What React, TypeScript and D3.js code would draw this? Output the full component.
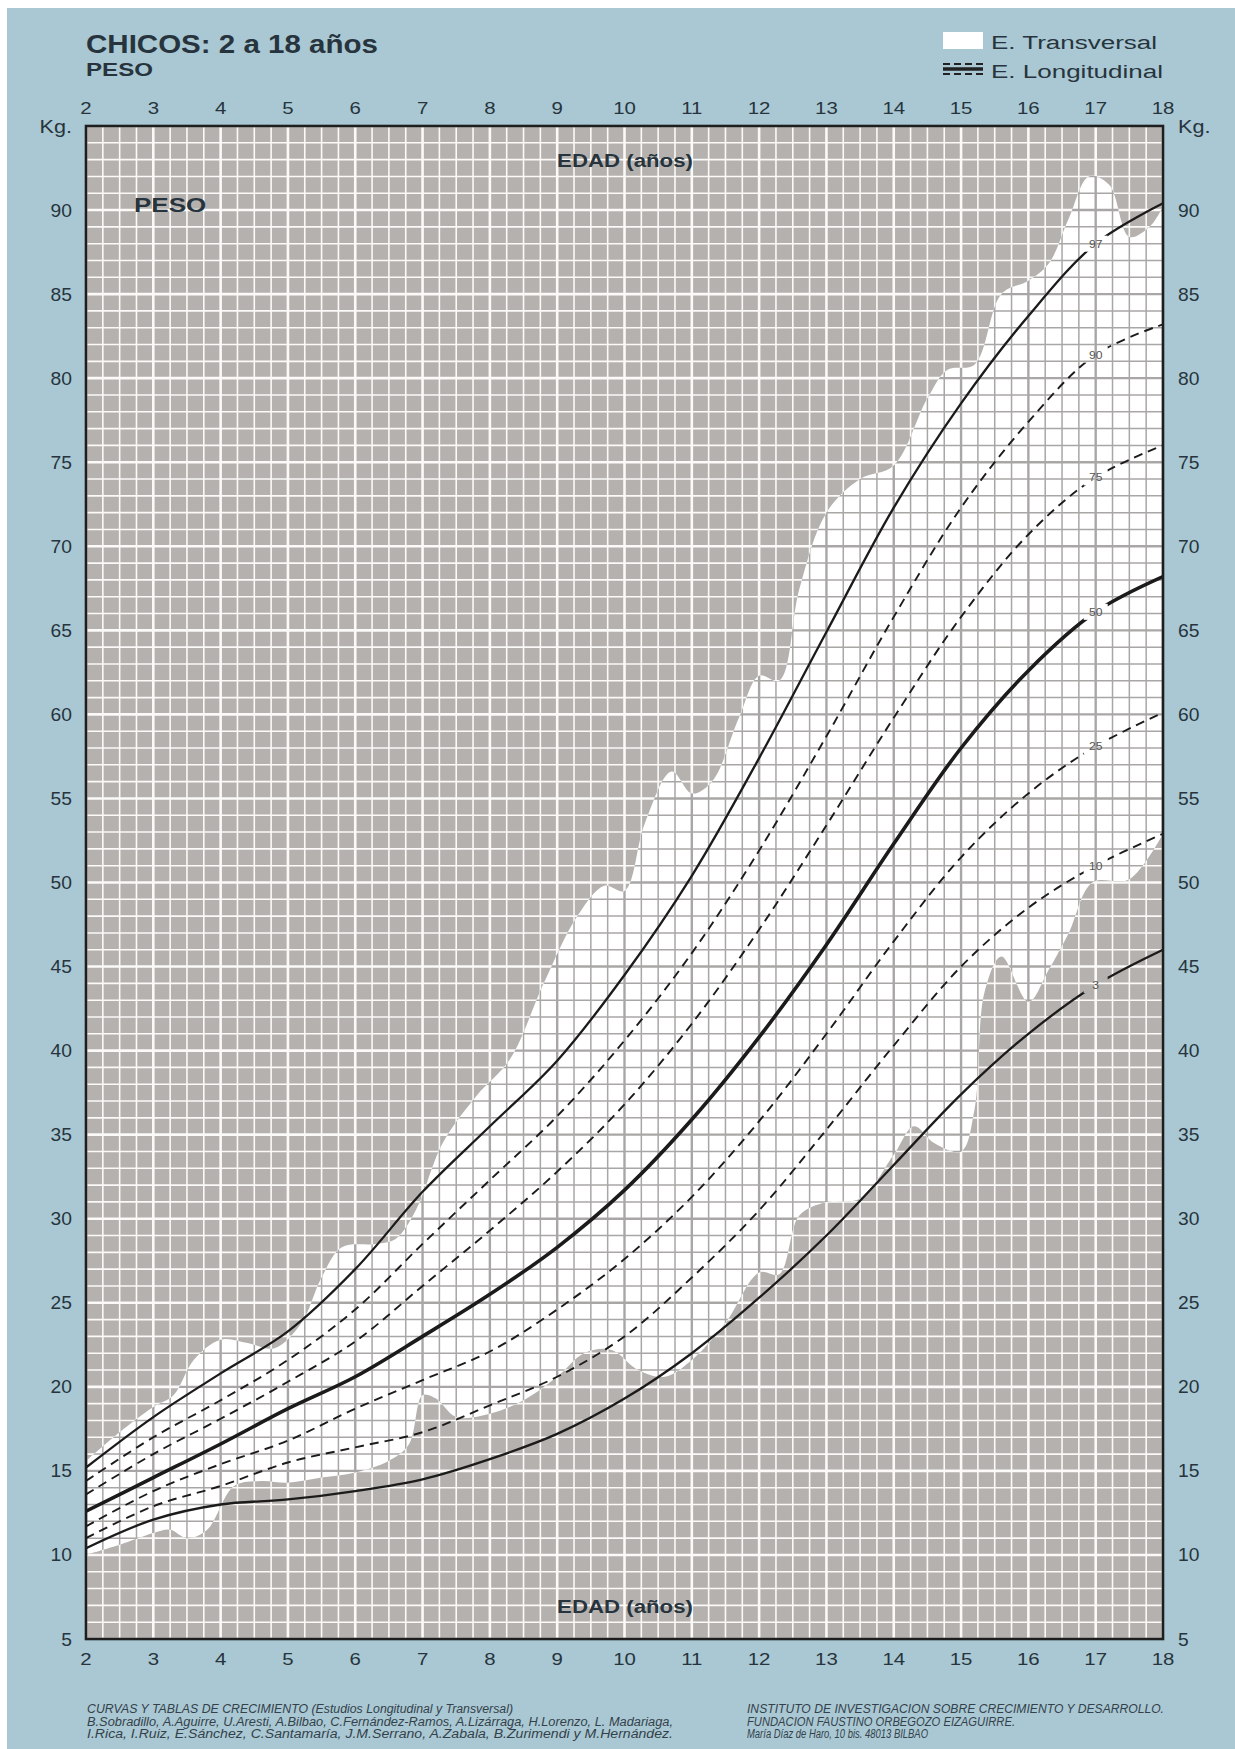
import React from 'react';
import * as d3 from 'd3';

// edades (años) de las curvas longitudinales
const ages = [2, 3, 4, 5, 6, 7, 8, 9, 10, 11, 12, 13, 14, 15, 16, 17, 18];
// percentiles de peso (kg)
const p3 = [10.4, 12.1, 13.0, 13.3, 13.8, 14.5, 15.7, 17.2, 19.3, 22.0, 25.3, 29.0, 33.2, 37.4, 41.0, 43.9, 46.0];
const p10 = [11.0, 12.9, 14.1, 15.5, 16.4, 17.3, 18.9, 20.6, 23.0, 26.5, 30.5, 35.3, 40.3, 45.0, 48.5, 51.0, 52.9];
const p25 = [11.7, 13.8, 15.4, 16.8, 18.7, 20.4, 22.1, 24.6, 27.6, 31.3, 35.8, 41.0, 46.5, 51.5, 55.3, 58.1, 60.1];
const p50 = [12.6, 14.6, 16.6, 18.7, 20.6, 23.0, 25.5, 28.3, 31.7, 35.9, 40.8, 46.3, 52.3, 58.0, 62.6, 66.1, 68.2];
const p75 = [13.6, 16.0, 18.1, 20.3, 22.7, 26.0, 29.3, 32.8, 36.8, 41.6, 47.2, 53.4, 59.8, 65.8, 70.7, 74.1, 76.0];
const p90 = [14.4, 17.0, 19.2, 21.6, 24.6, 28.5, 32.3, 36.1, 40.6, 45.8, 51.9, 58.7, 65.8, 72.3, 77.4, 81.4, 83.2];
const p97 = [15.2, 18.2, 20.8, 23.3, 27.0, 31.6, 35.5, 39.4, 44.5, 50.4, 57.4, 64.9, 72.3, 78.5, 83.7, 88.0, 90.4];
const curveNames = ['97', '90', '75', '50', '25', '10', '3'];

// estudio transversal: limite superior e inferior de la zona blanca
const bandUpAge = [2, 2.5, 3, 3.3, 3.6, 4.0, 4.4, 4.8, 5.2, 5.5, 5.8, 6.3, 6.6, 6.9, 7.3, 7.8, 8.3, 8.8, 9.3, 9.7, 10.0, 10.3, 10.7, 11.0, 11.3, 11.7, 12.0, 12.3, 12.6, 13.0, 13.5, 14.0, 14.5, 14.8, 15.2, 15.6, 16.0, 16.3, 16.6, 16.9, 17.2, 17.5, 17.8, 18];
const bandUpKg = [15.6, 17.3, 18.8, 19.5, 21.6, 22.8, 22.6, 22.3, 23.8, 26.5, 28.3, 28.5, 28.8, 30.5, 34.5, 37.3, 39.5, 44.0, 48.0, 49.8, 49.5, 53.5, 56.6, 55.3, 56.0, 59.8, 62.3, 62.0, 67.5, 72.0, 74.0, 74.8, 78.8, 80.5, 80.8, 85.0, 85.8, 86.8, 89.5, 92.0, 91.5, 88.4, 89.0, 90.2];
const bandLoAge = [2, 2.5, 3.0, 3.25, 3.5, 3.8, 4.2, 4.6, 5.0, 5.5, 6.0, 6.5, 6.8, 7.0, 7.2, 7.5, 8.0, 8.5, 9.0, 9.4, 9.8, 10.2, 10.6, 11.0, 11.5, 12.0, 12.3, 12.6, 13.0, 13.5, 14.0, 14.3, 14.6, 15.0, 15.2, 15.35, 15.6, 16.0, 16.3, 16.6, 16.95, 17.5, 18];
const bandLoKg = [10.0, 10.6, 11.3, 11.5, 11.0, 11.5, 14.1, 14.4, 14.3, 14.6, 14.9, 15.6, 16.6, 19.5, 19.3, 18.2, 18.4, 19.2, 20.6, 22.0, 22.2, 21.0, 20.6, 21.6, 23.8, 26.8, 26.7, 30.2, 31.0, 31.2, 33.8, 35.5, 34.5, 34.0, 36.5, 43.5, 45.6, 42.9, 44.8, 47.0, 50.0, 50.2, 52.9];

const yearTicks = d3.range(2, 19);
const kgTicks = d3.range(5, 95, 5);

const footerLeft = [
  'CURVAS Y TABLAS DE CRECIMIENTO (Estudios Longitudinal y Transversal)',
  'B.Sobradillo, A.Aguirre, U.Aresti, A.Bilbao, C.Fernández-Ramos, A.Lizárraga, H.Lorenzo, L. Madariaga,',
  'I.Rica, I.Ruiz, E.Sánchez, C.Santamaría, J.M.Serrano,  A.Zabala, B.Zurimendi y M.Hernández.',
];
const footerRight = [
  'INSTITUTO DE INVESTIGACION SOBRE CRECIMIENTO Y DESARROLLO.',
  'FUNDACION FAUSTINO ORBEGOZO EIZAGUIRRE.',
  'María Díaz de Haro, 10 bis. 48013 BILBAO',
];

const FONT = '"Liberation Sans", Arial, Helvetica, sans-serif';
const INK = '#27343d';

const T = ({ x, y, size, bold, anchor, sx = 1.2, fill = INK, children }: any) => (
  <text
    transform={`translate(${x},${y}) scale(${sx},1)`}
    fontSize={size}
    fontWeight={bold ? 'bold' : 'normal'}
    textAnchor={anchor || 'start'}
    fill={fill}
    fontFamily={FONT}
  >
    {children}
  </text>
);

export default function App() {
  const W = 1235;
  const H = 1749;
  const left = 86, right = 1163, top = 126, bottom = 1639;
  const x = d3.scaleLinear().domain([2, 18]).range([left, right]);
  const y = d3.scaleLinear().domain([5, 95]).range([bottom, top]);

  const vLines = d3.range(2, 18.001, 0.25);
  const hLines = d3.range(5, 95.001, 1);
  const isYear = (v: number) => Math.abs(v - Math.round(v)) < 1e-6;

  const line = d3.line<number[]>()
    .x(d => x(d[0]))
    .y(d => y(d[1]))
    .curve(d3.curveCatmullRom.alpha(0.5));

  const up = bandUpAge.map((a, i) => [a, bandUpKg[i]]);
  const lo = bandLoAge.map((a, i) => [a, bandLoKg[i]]).reverse();
  const bandPath = (line(up) || '') + 'L' + (line(lo) || '').slice(1) + 'Z';

  const series = [p97, p90, p75, p50, p25, p10, p3];
  const styles = [
    { dash: null, w: 2.3 },
    { dash: '9,6', w: 1.9 },
    { dash: '9,6', w: 1.9 },
    { dash: null, w: 3.6 },
    { dash: '9,6', w: 1.9 },
    { dash: '9,6', w: 1.9 },
    { dash: null, w: 2.3 },
  ];
  const i17 = ages.indexOf(17);

  const grid = (stroke: string, minorW: number, majorW: number) => (
    <g>
      {vLines.map(v => (
        <line key={'v' + v} x1={x(v)} x2={x(v)} y1={top} y2={bottom}
          stroke={stroke} strokeWidth={isYear(v) ? majorW : minorW} />
      ))}
      {hLines.map(v => (
        <line key={'h' + v} x1={left} x2={right} y1={y(v)} y2={y(v)}
          stroke={stroke} strokeWidth={v % 5 === 0 ? majorW : minorW} />
      ))}
    </g>
  );

  return (
    <svg width={W} height={H} style={{ position: 'absolute', left: 0, top: 0, display: 'block' }}>
      <defs>
        <clipPath id="plotClip">
          <rect x={left} y={top} width={right - left} height={bottom - top} />
        </clipPath>
        <clipPath id="bandClip">
          <path d={bandPath} />
        </clipPath>
        <mask id="lblMask" maskUnits="userSpaceOnUse" x={0} y={0} width={W} height={H}>
          <rect x={0} y={0} width={W} height={H} fill="white" />
          {series.map((s, i) => (
            <rect key={i} x={x(17) - 12} y={y(s[i17]) - 8} width={24} height={16} fill="black" />
          ))}
        </mask>
      </defs>

      <rect x={0} y={0} width={W} height={H} fill="#ffffff" />
      <rect x={7} y={8} width={W - 7} height={H - 8} fill="#a9c8d3" />

      {/* titulo */}
      <text x={86} y={53} fontSize={25.5} fontWeight="bold" fill={INK} fontFamily={FONT}
        textLength={292} lengthAdjust="spacingAndGlyphs">CHICOS: 2 a 18 años</text>
      <text x={86} y={76} fontSize={19} fontWeight="bold" fill={INK} fontFamily={FONT}
        textLength={67} lengthAdjust="spacingAndGlyphs">PESO</text>

      {/* leyenda */}
      <rect x={943} y={32} width={40} height={17} fill="#ffffff" />
      <line x1={943} x2={983} y1={64} y2={64} stroke="#222" strokeWidth={1.8} strokeDasharray="7,4" />
      <line x1={943} x2={983} y1={69} y2={69} stroke="#222" strokeWidth={3.4} />
      <line x1={943} x2={983} y1={74} y2={74} stroke="#222" strokeWidth={1.8} strokeDasharray="7,4" />
      <text x={991} y={49} fontSize={18} fill={INK} fontFamily={FONT}
        textLength={166} lengthAdjust="spacingAndGlyphs">E. Transversal</text>
      <text x={991} y={78} fontSize={18} fill={INK} fontFamily={FONT}
        textLength={172} lengthAdjust="spacingAndGlyphs">E. Longitudinal</text>

      {/* area del grafico */}
      <g clipPath="url(#plotClip)">
        <rect x={left} y={top} width={right - left} height={bottom - top} fill="#b5b1ae" />
        {grid('#fbfaf8', 1.6, 2.6)}
        <path d={bandPath} fill="#ffffff" />
        <g clipPath="url(#bandClip)">{grid('#a9a7a6', 1.5, 2.4)}</g>

        <g mask="url(#lblMask)">
          {series.map((s, i) => (
            <path key={i}
              d={line(ages.map((a, j) => [a, s[j]])) || ''}
              fill="none" stroke="#1b1b1b" strokeWidth={styles[i].w}
              strokeDasharray={styles[i].dash || undefined} />
          ))}
        </g>
        {series.map((s, i) => (
          <T key={i} x={x(17)} y={y(s[i17]) + 4} size={11} anchor="middle" sx={1.1} fill="#555">
            {curveNames[i]}
          </T>
        ))}

        <T x={134} y={212} size={20} bold sx={1.3}>PESO</T>
        <T x={625} y={167} size={17.5} bold anchor="middle" sx={1.27}>EDAD (años)</T>
        <T x={625} y={1613} size={17.5} bold anchor="middle" sx={1.27}>EDAD (años)</T>
      </g>

      <rect x={left} y={top} width={right - left} height={bottom - top}
        fill="none" stroke="#1e1e1e" strokeWidth={2.6} />

      {/* ejes */}
      {yearTicks.map(t => (
        <g key={'yr' + t}>
          <T x={x(t)} y={114} size={17} anchor="middle">{t}</T>
          <T x={x(t)} y={1665} size={17} anchor="middle">{t}</T>
        </g>
      ))}
      {kgTicks.map(t => (
        <g key={'kg' + t}>
          <T x={72} y={y(t) + 6.5} size={17.5} anchor="end" sx={1.1}>{t}</T>
          <T x={1178} y={y(t) + 6.5} size={17.5} sx={1.1}>{t}</T>
        </g>
      ))}
      <T x={72} y={133} size={18} anchor="end">Kg.</T>
      <T x={1178} y={133} size={18}>Kg.</T>

      {/* pie */}
      {footerLeft.map((s, i) => (
        <text key={'fl' + i} x={87} y={1713 + i * 12.5} fontSize={12.5} fontStyle="italic"
          fill="#34414a" fontFamily={FONT}
          textLength={i === 0 ? 426 : 586} lengthAdjust="spacingAndGlyphs">{s}</text>
      ))}
      {footerRight.map((s, i) => (
        <text key={'fr' + i} x={747} y={1713 + i * 12.5} fontSize={12.5} fontStyle="italic"
          fill="#34414a" fontFamily={FONT}
          textLength={[417, 268, 181][i]} lengthAdjust="spacingAndGlyphs">{s}</text>
      ))}
    </svg>
  );
}
